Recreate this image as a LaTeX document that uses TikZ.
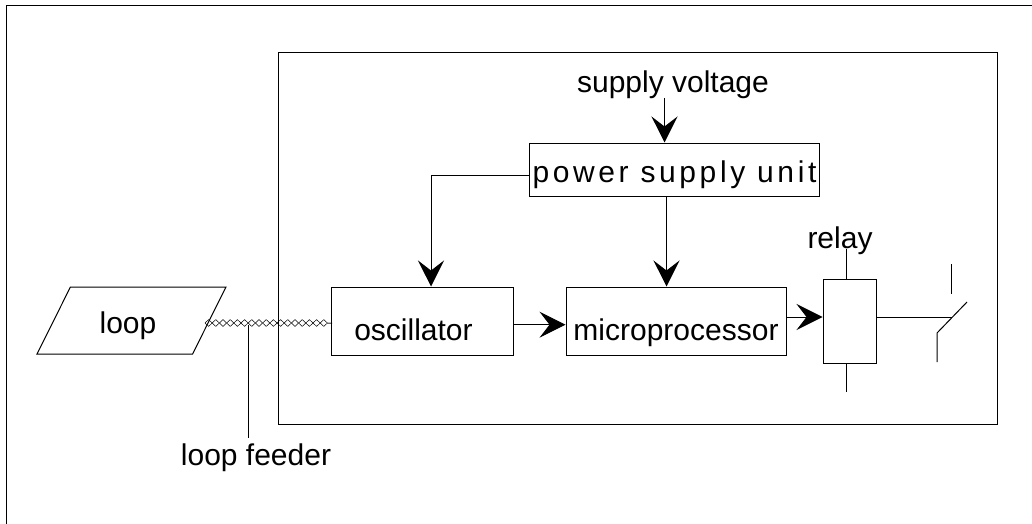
\documentclass[tikz,border=0pt]{standalone}
\usepackage{fontspec}
\setmainfont{Liberation Sans}
\newfontfamily\spacedfont[LetterSpace=12]{Liberation Sans}
\usetikzlibrary{arrows.meta,shapes.geometric,decorations.pathmorphing}
\tikzset{
  blockbox/.style={draw,line width=1pt,inner sep=0pt},
  blocktext/.style={anchor=base,inner sep=0pt,font=\fontsize{30}{33}\selectfont},
  wireline/.style={line width=1pt},
  flowarrow/.style={line width=1pt,-{Stealth[length=26pt,width=26pt,inset=10pt]}},
  twistwire/.style={line width=.5pt,decorate,decoration={zigzag,segment length=14.4pt,amplitude=3.4pt}}
}
\begin{document}
\begin{tikzpicture}[x=1pt,y=-1pt]
  \useasboundingbox (0,0) rectangle (1032,524);
  % frame
  \coordinate (framea) at (6,524);
  \coordinate (frameb) at (6,6);
  \coordinate (framec) at (1032,6);
  \draw [wireline] (framea) -- (frameb) -- (framec);
  \node [blockbox,minimum width=719pt,minimum height=371pt] (housing) at (637.5,238.5) {};
  % blocks
  \node [blockbox,trapezium,trapezium left angle=61,trapezium right angle=119,
    trapezium stretches=true,minimum width=189pt,minimum height=67pt] (loop) at (131.5,320.5) {\phantom{loop}};
  \node [blockbox,minimum width=182pt,minimum height=68pt] (oscillator) at (422.5,321) {};
  \node [blockbox,minimum width=220pt,minimum height=68pt] (micro) at (676,321) {};
  \node [blockbox,minimum width=290pt,minimum height=53pt] (psu) at (674,169.5) {};
  \node [blockbox,minimum width=53pt,minimum height=84pt] (relay) at (849.5,321) {};
  % texts
  \node [blocktext] (looptext) at (128,333) {loop};
  \node [blocktext] (feedertext) at (256,465) {loop feeder};
  \node [blocktext] (osctext) at (413.5,340.5) {oscillator};
  \node [blocktext] (microtext) at (676,340.5) {microprocessor};
  \node [blocktext] (psutext) at (674.5,182) {\spacedfont power supply unit};
  \node [blocktext] (supplytext) at (673,93) {supply voltage};
  \node [blocktext] (relaytext) at (840,248) {relay};
  % loop feeder
  \coordinate (wirea) at (205,323);
  \coordinate (wireb) at (332,323);
  \coordinate (feedera) at (248,325);
  \coordinate (feederb) at (248,438);
  \draw [twistwire] (wirea) -- (wireb);
  \draw [twistwire,decoration={mirror}] (wirea) -- (wireb);
  \draw [wireline] (feedera) -- (feederb);
  % arrows
  \coordinate (supplyin) at (664.5,98);
  \draw [flowarrow] (supplyin) -- (supplyin |- psu.north);
  \draw [flowarrow] ([yshift=-5.5pt]psu.west) -| ([xshift=8.5pt]oscillator.north);
  \draw [flowarrow] ([xshift=-7.5pt]psu.south) -- ([xshift=-9.5pt]micro.north);
  \draw [flowarrow] ([yshift=-3.7pt]oscillator.east) -- ([yshift=-3.7pt]micro.west);
  \draw [flowarrow] ([yshift=4pt]micro.east) -- ([yshift=4pt]relay.west);
  % relay and switch
  \coordinate (coila) at (846,249);
  \coordinate (coilb) at (846,392);
  \coordinate (bladea) at (937,362);
  \coordinate (bladeb) at (937,333);
  \coordinate (bladec) at (967,302);
  \coordinate (bladed) at (951.5,317);
  \coordinate (contacta) at (951.5,264);
  \coordinate (contactb) at (951.5,294);
  \draw [wireline] (coila) -- (coila |- relay.north);
  \draw [wireline] (coilb) -- (coilb |- relay.south);
  \draw [wireline] ([yshift=4pt]relay.east) -- (bladed);
  \draw [wireline] (bladea) -- (bladeb) -- (bladec);
  \draw [wireline] (contacta) -- (contactb);
\end{tikzpicture}
\end{document}
